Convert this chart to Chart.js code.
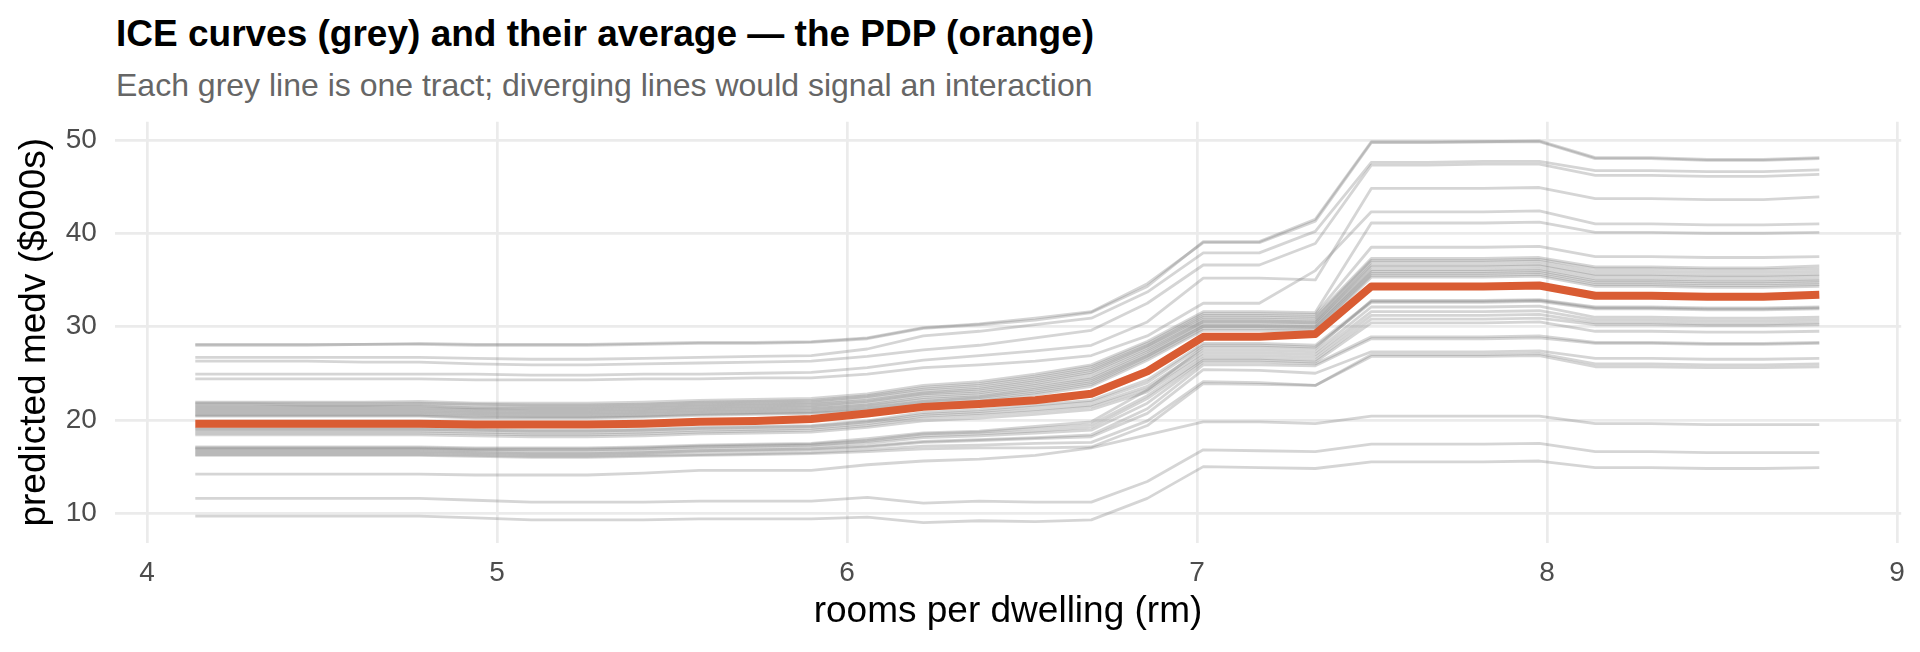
<!DOCTYPE html>
<html>
<head>
<meta charset="utf-8">
<script src="https://cdn.jsdelivr.net/npm/chart.js@4.4.1/dist/chart.umd.min.js"></script>
<style>
  body { margin: 0; background: #fff; }
  #wrap { position: relative; width: 1920px; height: 652px; overflow: hidden; font-family: "Liberation Sans", Arial, sans-serif; }
  #title { position: absolute; left: 116px; top: 15px; font-size: 37px; font-weight: bold; line-height: 37px; color: #000; white-space: nowrap; }
  #subtitle { position: absolute; left: 116px; top: 69px; font-size: 32px; line-height: 32px; color: #666; white-space: nowrap; }
  canvas { position: absolute; left: 0; top: 0; }
</style>
</head>
<body>
<div id="wrap">
  <div id="title">ICE curves (grey) and their average — the PDP (orange)</div>
  <div id="subtitle">Each grey line is one tract; diverging lines would signal an interaction</div>
  <canvas id="iceChart" width="1920" height="652"></canvas>
</div>
<script>
// grid of rm values used for the ICE curves
const xGrid = [4.138, 4.298, 4.458, 4.618, 4.778, 4.938, 5.098, 5.258, 5.418, 5.578,
               5.738, 5.898, 6.058, 6.218, 6.378, 6.538, 6.698, 6.858, 7.018, 7.178,
               7.338, 7.498, 7.658, 7.818, 7.978, 8.138, 8.298, 8.458, 8.618, 8.778];

// average of all curves (orange)
const pdpValues = [19.6, 19.6, 19.6, 19.6, 19.6, 19.5, 19.5, 19.5, 19.6, 19.8,
                   19.9, 20.1, 20.7, 21.4, 21.7, 22.1, 22.8, 25.2, 28.9, 28.9,
                   29.2, 34.3, 34.3, 34.3, 34.4, 33.3, 33.3, 33.2, 33.2, 33.4];

// one row per tract (grey)
const iceValues = [
  [28.0,28.0,28.0,28.1,28.1,28.0,28.0,28.0,28.1,28.2,28.2,28.3,28.7,29.8,30.2,30.7,31.5,34.3,39.1,39.1,41.5,49.8,49.8,49.8,49.9,48.1,48.1,47.9,47.9,48.1],
  [28.1,28.1,28.1,28.1,28.2,28.1,28.1,28.1,28.2,28.3,28.3,28.4,28.8,29.9,30.3,30.9,31.6,34.6,39.0,39.0,41.3,49.7,49.7,49.8,49.8,48.0,48.0,47.8,47.8,48.0],
  [26.7,26.7,26.7,26.7,26.7,26.6,26.5,26.5,26.6,26.7,26.8,26.9,27.6,29.0,29.5,30.2,30.9,33.7,37.9,37.9,40.2,47.6,47.6,47.7,47.7,46.7,46.7,46.6,46.6,46.8],
  [26.3,26.3,26.3,26.2,26.2,26.0,25.9,25.9,26.0,26.1,26.2,26.3,26.8,27.5,28.0,28.8,29.6,32.5,36.6,36.6,38.9,47.3,47.3,47.4,47.4,46.2,46.2,46.1,46.1,46.3],
  [24.9,24.9,24.9,24.9,24.9,24.9,24.8,24.8,24.9,24.9,25.0,25.1,25.6,26.4,26.9,27.4,28.0,30.5,35.2,35.2,35.0,44.8,44.8,44.8,44.9,43.7,43.7,43.6,43.6,43.9],
  [24.4,24.4,24.4,24.4,24.4,24.3,24.3,24.3,24.4,24.4,24.5,24.5,24.9,25.6,25.9,26.3,26.9,29.0,32.5,32.5,36.0,42.3,42.3,42.3,42.4,41.0,41.0,40.9,40.9,41.0],
  [21.9,21.9,21.9,21.9,22.0,21.8,21.8,21.8,21.9,22.1,22.2,22.3,22.8,23.7,24.1,24.9,25.9,28.4,31.6,31.6,31.5,41.1,41.1,41.1,41.2,40.1,40.1,40.0,40.0,40.1],
  [21.8,21.8,21.8,21.8,21.8,21.7,21.6,21.6,21.7,21.9,22.0,22.1,22.6,23.5,23.9,24.7,25.7,28.2,31.4,31.4,31.3,38.5,38.5,38.5,38.6,37.5,37.5,37.4,37.4,37.5],
  [21.7,21.7,21.6,21.6,21.7,21.5,21.5,21.5,21.6,21.8,21.9,22.0,22.5,23.3,23.7,24.5,25.5,28.0,31.2,31.2,31.1,37.3,37.3,37.3,37.4,36.4,36.4,36.3,36.3,36.5],
  [21.5,21.5,21.5,21.5,21.5,21.3,21.3,21.3,21.4,21.6,21.7,21.8,22.3,23.1,23.5,24.3,25.3,27.9,31.0,31.0,30.9,37.1,37.1,37.1,37.2,36.2,36.2,36.1,36.1,36.2],
  [21.4,21.4,21.4,21.4,21.4,21.2,21.2,21.2,21.3,21.5,21.6,21.7,22.1,22.9,23.3,24.1,25.1,27.7,30.8,30.8,30.7,36.9,36.9,36.9,37.0,35.9,35.9,35.8,35.8,35.9],
  [21.2,21.2,21.2,21.2,21.2,21.1,21.0,21.0,21.1,21.3,21.4,21.5,22.0,22.8,23.1,23.9,24.9,27.5,30.6,30.6,30.5,36.6,36.6,36.6,36.7,35.6,35.6,35.5,35.5,35.6],
  [21.1,21.1,21.1,21.1,21.1,20.9,20.9,20.9,21.0,21.2,21.3,21.4,21.8,22.6,22.9,23.7,24.6,27.3,30.5,30.5,30.4,36.4,36.4,36.4,36.5,35.4,35.4,35.3,35.3,35.4],
  [20.9,20.9,20.9,20.9,20.9,20.8,20.7,20.7,20.8,21.0,21.1,21.2,21.6,22.4,22.7,23.5,24.4,27.1,30.3,30.3,30.2,36.1,36.1,36.1,36.2,35.1,35.1,35.0,35.0,35.1],
  [20.8,20.8,20.8,20.8,20.8,20.6,20.6,20.6,20.7,20.9,21.0,21.1,21.5,22.2,22.5,23.3,24.2,26.9,30.1,30.1,30.0,35.9,35.9,35.9,36.0,34.9,34.9,34.8,34.8,34.9],
  [20.6,20.6,20.6,20.6,20.6,20.5,20.4,20.4,20.5,20.7,20.8,20.9,21.3,22.0,22.4,23.1,24.0,26.8,30.0,30.0,29.9,35.7,35.7,35.7,35.8,34.7,34.7,34.6,34.6,34.7],
  [20.5,20.5,20.5,20.5,20.5,20.3,20.3,20.3,20.4,20.6,20.7,20.8,21.2,21.9,22.2,22.9,23.8,26.6,29.8,29.8,29.7,35.5,35.5,35.5,35.6,34.5,34.5,34.4,34.4,34.5],
  [20.4,20.4,20.4,20.4,20.4,20.2,20.2,20.2,20.3,20.5,20.6,20.7,21.0,21.7,22.0,22.7,23.6,26.4,29.6,29.6,29.5,35.3,35.3,35.3,35.4,34.3,34.3,34.2,34.2,34.3],
  [19.1,19.1,19.1,19.1,19.1,19.0,18.9,18.9,19.0,19.2,19.3,19.4,19.9,20.8,21.1,21.6,22.1,24.3,28.2,28.2,28.0,32.7,32.7,32.7,32.8,32.0,32.0,31.9,31.9,32.0],
  [19.0,19.0,19.0,19.0,19.0,18.9,18.8,18.8,18.9,19.1,19.2,19.3,19.8,20.6,20.9,21.4,21.9,24.0,28.0,28.0,27.8,32.6,32.6,32.6,32.7,31.9,31.9,31.8,31.8,31.9],
  [17.1,17.1,17.1,17.1,17.1,17.0,17.0,17.0,17.1,17.3,17.4,17.5,18.0,18.6,18.8,19.3,19.8,23.2,27.8,27.8,27.6,32.8,32.8,32.8,32.9,32.1,32.1,32.0,32.0,32.1],
  [18.8,18.8,18.8,18.8,18.8,18.7,18.6,18.6,18.7,18.9,19.0,19.1,19.6,20.4,20.7,21.1,21.6,23.6,27.5,27.5,27.3,32.1,32.1,32.1,32.2,31.0,31.0,30.9,30.9,31.0],
  [18.6,18.6,18.6,18.6,18.6,18.5,18.4,18.4,18.5,18.7,18.8,18.9,19.4,20.2,20.5,20.9,21.4,23.3,27.2,27.2,27.0,31.6,31.6,31.6,31.7,30.7,30.7,30.6,30.6,30.7],
  [18.4,18.4,18.4,18.4,18.4,18.3,18.2,18.2,18.3,18.5,18.6,18.7,19.2,19.9,20.2,20.6,21.1,23.0,26.9,26.9,26.7,31.2,31.2,31.2,31.3,30.4,30.4,30.3,30.3,30.4],
  [17.0,17.0,17.0,17.0,17.0,16.9,16.9,16.9,17.0,17.2,17.3,17.4,17.8,18.5,18.7,19.1,19.5,22.6,26.6,26.6,26.4,30.8,30.8,30.8,30.9,30.2,30.2,30.1,30.1,30.2],
  [16.9,16.9,16.9,16.9,16.9,16.8,16.8,16.8,16.9,17.1,17.2,17.3,17.7,18.3,18.5,18.8,19.2,22.3,26.4,26.4,26.2,30.4,30.4,30.4,30.5,29.5,29.5,29.4,29.4,29.5],
  [16.8,16.8,16.8,16.8,16.8,16.7,16.6,16.6,16.7,16.9,17.0,17.1,17.5,18.1,18.3,18.6,18.9,21.8,26.2,26.2,26.0,28.9,28.9,28.9,29.0,28.3,28.3,28.2,28.2,28.3],
  [16.6,16.6,16.6,16.6,16.6,16.5,16.4,16.4,16.5,16.7,16.8,16.9,17.2,17.7,17.9,18.1,18.4,21.2,25.9,25.9,25.8,28.7,28.7,28.7,28.8,28.2,28.2,28.1,28.1,28.2],
  [16.5,16.5,16.5,16.5,16.5,16.4,16.3,16.3,16.4,16.6,16.7,16.8,17.1,17.6,17.8,18.0,18.2,20.7,25.4,25.3,25.0,27.3,27.3,27.3,27.4,26.6,26.6,26.5,26.5,26.6],
  [16.3,16.3,16.3,16.3,16.3,16.2,16.1,16.1,16.2,16.3,16.4,16.5,16.8,17.2,17.3,17.5,17.6,19.9,24.1,24.0,23.7,27.0,27.0,27.0,27.1,26.0,26.0,25.9,25.9,26.0],
  [16.2,16.2,16.2,16.2,16.2,16.1,16.0,16.0,16.1,16.2,16.3,16.4,16.6,16.9,17.0,17.0,17.1,19.4,23.9,23.8,23.7,26.8,26.8,26.8,26.9,25.7,25.7,25.6,25.6,25.7],
  [14.2,14.2,14.2,14.2,14.2,14.1,14.1,14.1,14.3,14.6,14.6,14.6,15.2,15.6,15.8,16.2,17.0,18.4,19.8,19.8,19.6,20.4,20.4,20.4,20.4,19.6,19.6,19.5,19.5,19.5],
  [11.6,11.6,11.6,11.6,11.6,11.4,11.2,11.2,11.2,11.3,11.3,11.3,11.7,11.1,11.3,11.2,11.2,13.4,16.8,16.7,16.6,17.4,17.4,17.4,17.5,16.6,16.6,16.5,16.5,16.5],
  [9.7,9.7,9.7,9.7,9.7,9.5,9.3,9.3,9.3,9.4,9.4,9.4,9.6,9.0,9.2,9.1,9.3,11.6,15.0,14.9,14.8,15.5,15.5,15.5,15.6,14.9,14.9,14.8,14.8,14.9]
];

const xTicks = [4, 5, 6, 7, 8, 9];
const yTicks = [10, 20, 30, 40, 50];

const fontFamily = '"Liberation Sans", Arial, sans-serif';

function toPoints(values) {
  return values.map((v, i) => ({ x: xGrid[i], y: v }));
}

// PDP first so it is drawn on top of the grey curves
const datasets = [{
  label: 'PDP',
  data: toPoints(pdpValues),
  borderColor: '#d95c33',
  borderWidth: 8,
  pointRadius: 0,
  borderJoinStyle: 'round'
}];

iceValues.forEach((values, i) => {
  datasets.push({
    label: 'tract ' + (i + 1),
    data: toPoints(values),
    borderColor: 'rgba(127, 127, 127, 0.33)',
    borderWidth: 2.8,
    pointRadius: 0,
    borderJoinStyle: 'round'
  });
});

const ctx = document.getElementById('iceChart').getContext('2d');
const iceChart = new Chart(ctx, {
  type: 'line',
  data: { datasets },
  options: {
    responsive: false,
    animation: false,
    layout: { padding: { left: 0, right: 18.8, top: 121.7, bottom: 0 } },
    plugins: {
      legend: { display: false },
      tooltip: { enabled: false }
    },
    scales: {
      x: {
        type: 'linear',
        min: 3.908,
        max: 9.012,
        afterBuildTicks: s => { s.ticks = xTicks.map(v => ({ value: v })); },
        afterFit: s => { s.height = 109.3; },
        grid: { color: '#ebebeb', lineWidth: 2.7, drawTicks: false },
        border: { display: false },
        ticks: {
          color: '#4d4d4d',
          font: { family: fontFamily, size: 28 },
          padding: 14,
          maxRotation: 0,
          autoSkip: false,
          callback: v => String(v)
        },
        title: {
          display: true,
          text: 'rooms per dwelling (rm)',
          color: '#000',
          font: { family: fontFamily, size: 37 },
          padding: { top: 0, bottom: 17.6 }
        }
      },
      y: {
        type: 'linear',
        min: 6.85,
        max: 51.95,
        afterBuildTicks: s => { s.ticks = yTicks.map(v => ({ value: v })); },
        afterFit: s => { s.width = 114.8; },
        grid: { color: '#ebebeb', lineWidth: 2.7, drawTicks: false },
        border: { display: false },
        ticks: {
          color: '#4d4d4d',
          font: { family: fontFamily, size: 28 },
          padding: 18,
          autoSkip: false,
          callback: v => String(v)
        },
        title: {
          display: true,
          text: 'predicted medv ($000s)',
          color: '#000',
          font: { family: fontFamily, size: 37 },
          padding: { top: 13, bottom: 0 }
        }
      }
    }
  }
});
</script>
</body>
</html>
